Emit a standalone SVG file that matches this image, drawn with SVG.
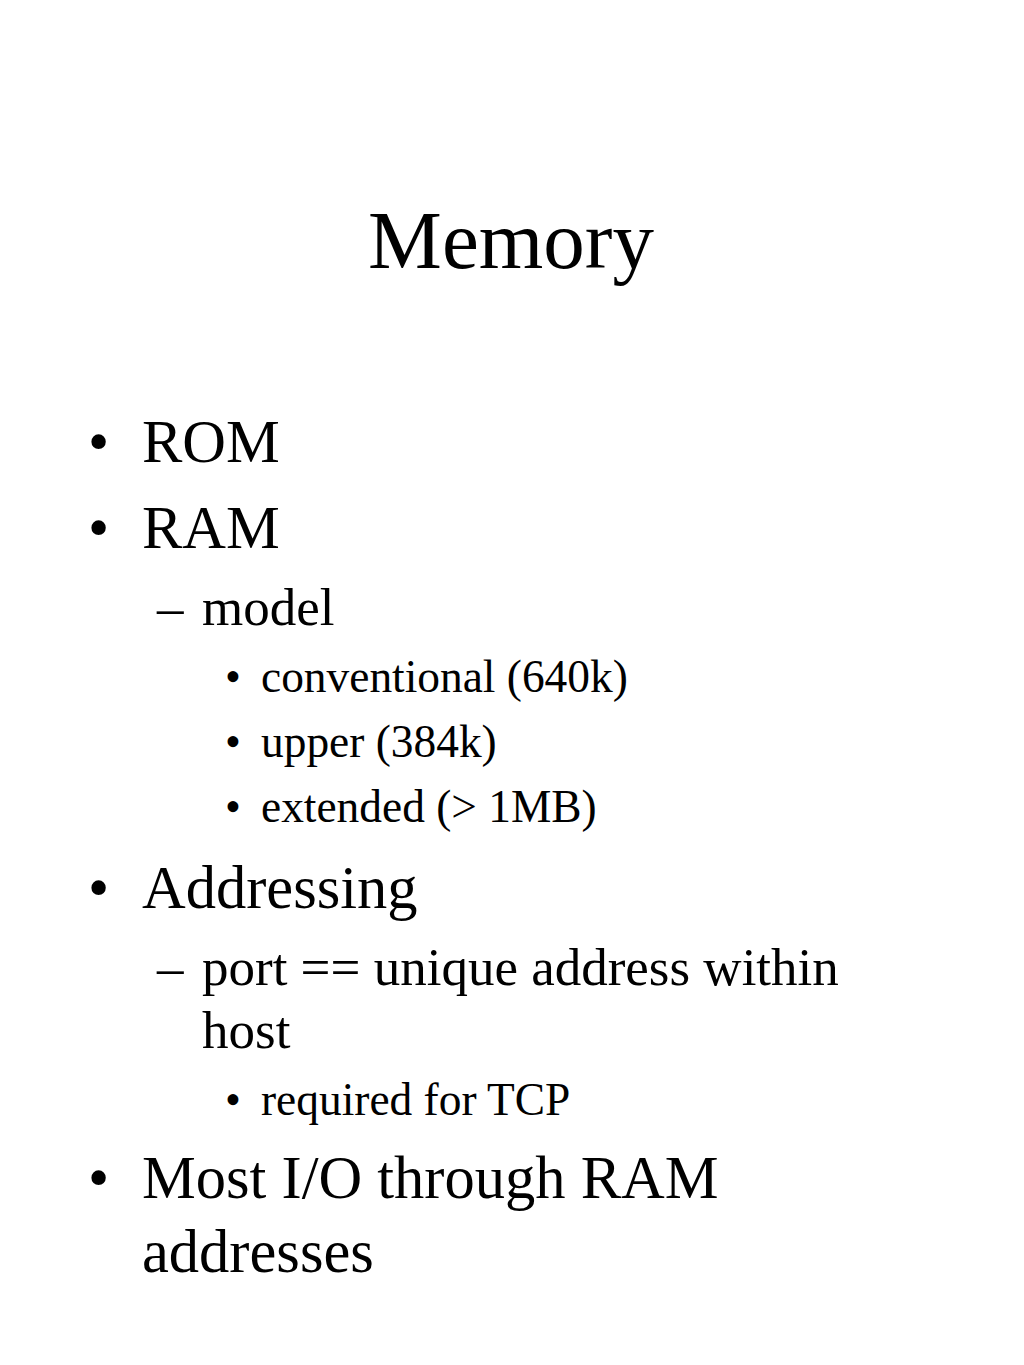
<svg xmlns="http://www.w3.org/2000/svg" width="1024" height="1365" viewBox="0 0 1024 1365">
<style>
text{font-family:"Liberation Serif","Times New Roman",serif;fill:#000}
.t{font-size:83px}
.l1{font-size:60.5px}
.l2{font-size:53px}
.l3{font-size:45.4px}
</style>
<rect width="1024" height="1365" fill="#fff"/>
<g id="title"><text class="t" x="511" y="268" text-anchor="middle">Memory</text></g>
<g id="rom"><text class="l1" x="88" y="462">•</text><text class="l1" x="142" y="462">ROM</text></g>
<g id="ram"><text class="l1" x="88" y="548">•</text><text class="l1" x="142" y="548">RAM</text></g>
<g id="model"><text class="l2" x="157" y="625">–</text><text class="l2" x="202" y="625">model</text></g>
<g id="conv"><text class="l3" x="225" y="692">•</text><text class="l3" x="261" y="692">conventional (640k)</text></g>
<g id="upper"><text class="l3" x="225" y="757">•</text><text class="l3" x="261" y="757">upper (384k)</text></g>
<g id="ext"><text class="l3" x="225" y="822">•</text><text class="l3" x="261" y="822">extended (&gt; 1MB)</text></g>
<g id="addr"><text class="l1" x="88" y="908">•</text><text class="l1" x="142" y="908">Addressing</text></g>
<g id="port"><text class="l2" x="157" y="985">–</text><text class="l2" x="202" y="985">port == unique address within</text><text class="l2" x="202" y="1048">host</text></g>
<g id="tcp"><text class="l3" x="225" y="1115">•</text><text class="l3" x="261" y="1115">required for TCP</text></g>
<g id="io"><text class="l1" x="88" y="1198">•</text><text class="l1" x="142" y="1198">Most I/O through RAM</text><text class="l1" x="142" y="1272">addresses</text></g>
</svg>
